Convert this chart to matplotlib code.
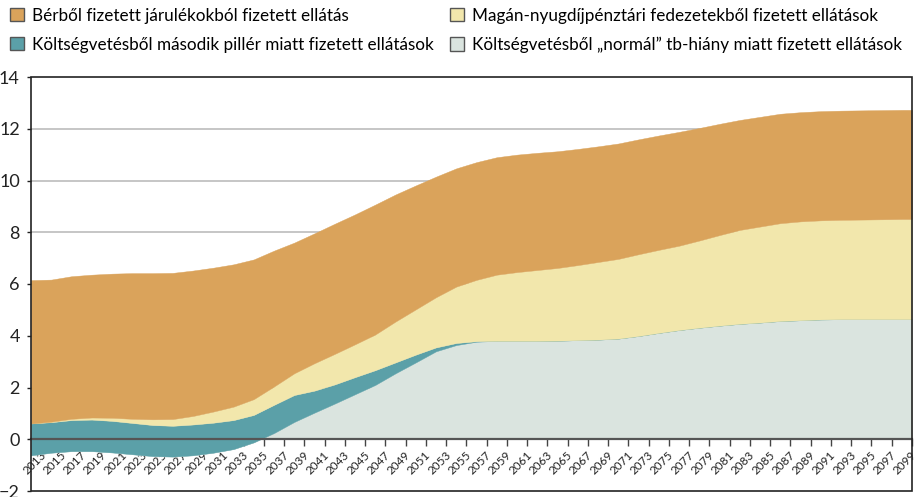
import numpy as np
import matplotlib
matplotlib.use("Agg")
import matplotlib.pyplot as plt
from matplotlib.patches import Patch, Rectangle
from matplotlib.transforms import ScaledTranslation

# years: every second year, plus the closing year of the projection
years = list(range(2013, 2100, 2)) + [2100]

# Költségvetésből "normál" tb-hiány miatt (negative = surplus)
kolts_normal = [-0.62, -0.52, -0.46, -0.46, -0.51, -0.58, -0.65, -0.67, -0.62, -0.52,
                -0.38, -0.12, 0.24, 0.67, 1.03, 1.38, 1.74, 2.10, 2.55, 2.97,
                3.40, 3.64, 3.77, 3.80, 3.80, 3.80, 3.81, 3.83, 3.85, 3.89,
                3.99, 4.11, 4.22, 4.31, 4.39, 4.46, 4.51, 4.57, 4.60, 4.63,
                4.64, 4.64, 4.64, 4.64, 4.64]
# Költségvetésből második pillér miatt
kolts_masodik = [1.23, 1.18, 1.20, 1.22, 1.22, 1.21, 1.20, 1.19, 1.19, 1.16,
                 1.12, 1.06, 1.09, 1.04, 0.85, 0.74, 0.66, 0.57, 0.42, 0.30,
                 0.15, 0.08, 0.02, 0.0, 0.0, 0.0, 0.0, 0.0, 0.0, 0.0,
                 0.0, 0.0, 0.0, 0.0, 0.0, 0.0, 0.0, 0.0, 0.0, 0.0,
                 0.0, 0.0, 0.0, 0.0, 0.0]
# Magán-nyugdíjpénztári fedezetekből
magan = [0.00, 0.02, 0.05, 0.08, 0.12, 0.16, 0.22, 0.26, 0.33, 0.43,
         0.52, 0.61, 0.71, 0.84, 1.06, 1.18, 1.27, 1.38, 1.58, 1.75,
         1.94, 2.18, 2.37, 2.56, 2.66, 2.74, 2.81, 2.90, 3.00, 3.08,
         3.16, 3.21, 3.26, 3.37, 3.50, 3.63, 3.71, 3.78, 3.82, 3.83,
         3.84, 3.85, 3.86, 3.87, 3.87]
# Bérből fizetett járulékokból
berbol = [5.54, 5.49, 5.51, 5.52, 5.57, 5.63, 5.65, 5.65, 5.62, 5.56,
          5.50, 5.40, 5.25, 5.05, 5.02, 5.03, 5.02, 5.02, 4.91, 4.79,
          4.66, 4.57, 4.55, 4.54, 4.54, 4.53, 4.51, 4.49, 4.47, 4.46,
          4.44, 4.42, 4.40, 4.35, 4.30, 4.25, 4.24, 4.23, 4.22, 4.22,
          4.22, 4.22, 4.22, 4.22, 4.22]

labels = [
    "Bérből fizetett járulékokból fizetett ellátás",
    "Költségvetésből második pillér miatt fizetett ellátások",
    "Magán-nyugdíjpénztári fedezetekből fizetett ellátások",
    "Költségvetésből „normál” tb-hiány miatt fizetett ellátások",
]

c_orange = "#DAA35B"
c_teal = "#5BA0A8"
c_yellow = "#F2E7AC"
c_grey = "#DAE4DF"

plt.rcParams["font.family"] = ["Lato", "DejaVu Sans"]

x = np.array(years)
b1 = np.array(kolts_normal)
b2 = b1 + np.array(kolts_masodik)
b3 = b2 + np.array(magan)
b4 = b3 + np.array(berbol)

fig = plt.figure(figsize=(9.18, 4.97), dpi=100)
ax = fig.add_axes([31 / 918, 6 / 497, 881 / 918, 414 / 497])

ax.fill_between(x, 0, b1, color=c_grey, lw=0.3, zorder=2)
ax.fill_between(x, b1, b2, color=c_teal, lw=0.3, zorder=3)
ax.fill_between(x, b2, b3, color=c_yellow, lw=0.3, zorder=4)
ax.fill_between(x, b3, b4, color=c_orange, lw=0.3, zorder=5)

ax.set_xlim(2013, 2100)
ax.set_ylim(-2, 14)
ax.set_yticks(range(-2, 15, 2))
ax.set_yticklabels(["\u22122"] + [str(v) for v in range(0, 15, 2)],
                   fontsize=13, color="#222222")
for v in range(2, 13, 2):
    ax.axhline(v, color="#C2C2C2", lw=1.3, zorder=1)

# category axis sits on zero
for side in ["top", "right", "left"]:
    ax.spines[side].set_visible(False)
ax.spines["bottom"].set_position(("data", 0))
ax.spines["bottom"].set_color("#555555")
ax.spines["bottom"].set_linewidth(1.6)
ax.spines["bottom"].set_zorder(6)
ax.add_patch(Rectangle((0, 0), 1, 1, transform=ax.transAxes, fill=False,
                       edgecolor="#222222", lw=1.2, zorder=7, clip_on=False))

ax.set_xticks(years[:-1])
ax.set_xticklabels([str(y) for y in years[:-1]], rotation=45, ha="right",
                   va="top", rotation_mode="anchor", fontsize=8.5,
                   color="#222222")
ax.set_xticks(range(2014, 2101, 2), minor=True)
ax.tick_params(axis="x", which="major", length=0, pad=7)
ax.tick_params(axis="x", which="minor", length=5, width=1, color="#444444",
               direction="out")
ax.tick_params(axis="y", length=3, width=1, color="#222222", pad=5)
shift = ScaledTranslation(9 / 100, 0, fig.dpi_scale_trans)
for lab in ax.get_xticklabels():
    lab.set_transform(lab.get_transform() + shift)

handles = [Patch(facecolor=c, edgecolor="#555555", lw=1)
           for c in [c_orange, c_teal, c_yellow, c_grey]]
fig.legend(handles, labels, loc="upper left", bbox_to_anchor=(0.0, 1.005),
           ncol=2, frameon=False, fontsize=12.3, handlelength=0.8,
           handleheight=0.8, handletextpad=0.45, columnspacing=1.0,
           labelspacing=0.75, borderaxespad=0.2)

fig.savefig("out.png", dpi=100)
